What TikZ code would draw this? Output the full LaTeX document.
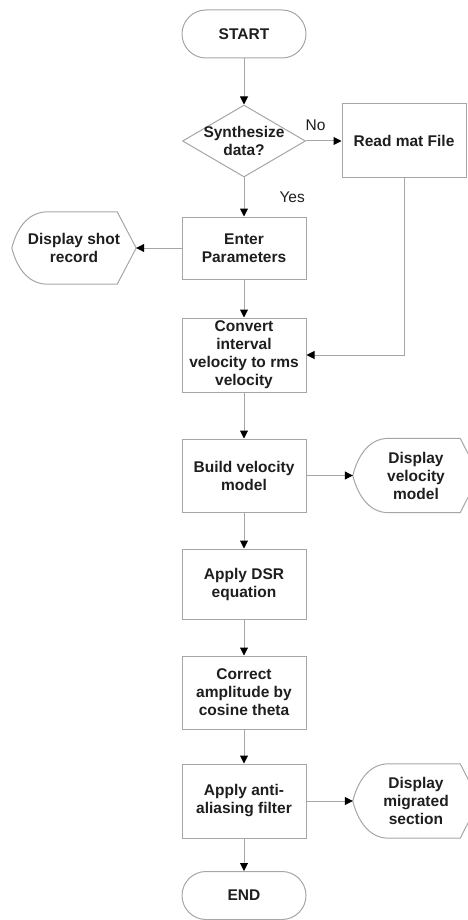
\documentclass[tikz,border=0pt]{standalone}
\usepackage{fontspec}
\setmainfont{Liberation Sans}
\usetikzlibrary{arrows.meta,shapes.geometric}
\definecolor{edgec}{HTML}{A6A6A6}
\definecolor{ink}{HTML}{1E1E1E}
\newcommand\dispoutline[1]{%
  \draw[draw=edgec, line width=1pt]
    ([xshift=36pt]#1.north west) -- ([xshift=-19pt]#1.north east) -- (#1.east)
    -- ([xshift=-19pt]#1.south east) -- ([xshift=36pt]#1.south west)
    .. controls ([xshift=14pt]#1.south west) and ([xshift=4pt,yshift=-16pt]#1.west) .. (#1.west)
    .. controls ([xshift=4pt,yshift=16pt]#1.west) and ([xshift=14pt]#1.north west) .. cycle;}
\begin{document}
\begin{tikzpicture}[x=1pt,y=-1pt,
  every node/.style={font=\fontsize{15.5}{18}\selectfont\bfseries, text=ink, align=center},
  box/.style={draw=edgec, line width=1pt, minimum width=124pt, inner sep=0pt},
  term/.style={draw=edgec, line width=1pt, minimum width=124pt, minimum height=48pt, rounded corners=24pt, inner sep=0pt},
  decision/.style={diamond, draw=edgec, line width=1pt, minimum width=123pt, minimum height=72pt, inner sep=0pt},
  disp/.style={inner sep=0pt, minimum width=126pt, minimum height=74pt},
  flow/.style={draw=edgec, line width=1pt, -{Triangle[length=8pt,width=8pt,color=black]}},
  lbl/.style={font=\fontsize{15.5}{18}\selectfont, text=ink, inner sep=0pt}
]
\useasboundingbox (0,0) rectangle (468,920);
\clip (0,0) rectangle (468,920);

\node[term] (start) at (244,34) {START};
\node[decision, label={[align=center, font=\fontsize{15.5}{18}\selectfont\bfseries, text=ink]center:Synthesize\\data?}] (dec) at (244,141) {};
\node[box, minimum height=74pt] (readmat) at (404,141) {Read mat File};
\node[box, minimum height=62pt] (enter) at (244,248) {Enter\\Parameters};
\node[disp, minimum width=124pt, minimum height=72pt] (shot) at (74,248) {Display shot\\record};
\node[box, minimum height=74pt] (convert) at (244,355) {Convert\\interval\\velocity to rms\\velocity};
\node[box, minimum height=73pt] (build) at (244,475.5) {Build velocity\\model};
\node[disp] (vmodel) at (416,475.5) {Display\\velocity\\model};
\node[box, minimum height=70pt] (dsr) at (244,584) {Apply DSR\\equation};
\node[box, minimum height=73pt] (correct) at (244,692.5) {Correct\\amplitude by\\cosine theta};
\node[box, minimum height=74pt] (anti) at (244,801) {Apply anti-\\aliasing filter};
\node[disp] (migr) at (416,801) {Display\\migrated\\section};
\node[term] (end) at (244,895.5) {END};

\dispoutline{shot}
\dispoutline{vmodel}
\dispoutline{migr}

\draw[flow] (start) -- (dec);
\draw[flow] (dec.east) -- node[lbl, pos=0.27, above=10pt] {No} (readmat.west);
\draw[flow] (dec.south) -- node[lbl, pos=0.5, right=35pt] {Yes} (enter.north);
\draw[flow] (enter.west) -- (shot.east);
\draw[flow] (enter) -- (convert);
\draw[flow] (readmat.south) |- (convert.east);
\draw[flow] (convert) -- (build);
\draw[flow] (build.east) -- (vmodel.west);
\draw[flow] (build) -- (dsr);
\draw[flow] (dsr) -- (correct);
\draw[flow] (correct) -- (anti);
\draw[flow] (anti.east) -- (migr.west);
\draw[flow] (anti) -- (end);
\end{tikzpicture}
\end{document}
